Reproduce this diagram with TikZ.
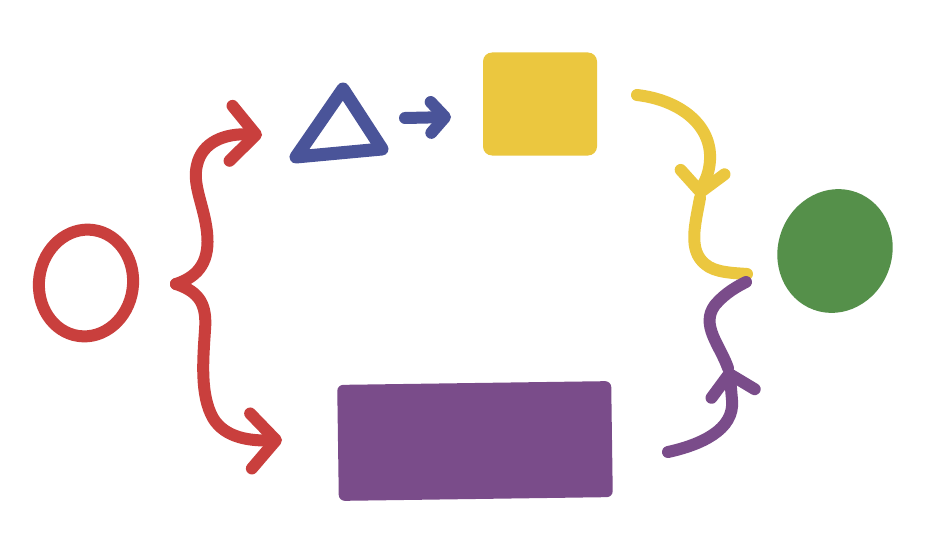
\documentclass[tikz,border=0pt]{standalone}
\usepackage{tikz}
\usetikzlibrary{arrows.meta,shapes.geometric}
\definecolor{redink}{HTML}{C93F3D}
\definecolor{blueink}{HTML}{4A5499}
\definecolor{yellowink}{HTML}{EBC73F}
\definecolor{purpleink}{HTML}{7A4C8A}
\definecolor{greenink}{HTML}{55904A}
\begin{document}
\begin{tikzpicture}[x=1pt,y=-1pt,line cap=round,line join=round,
 stroke/.style={line width=12pt},
 barb/.style={-{Straight Barb[round,length=#1,width=2.2*#1]}},
 barb/.default=20pt]
\useasboundingbox[fill=white] (0,0) rectangle (943,551);
% shapes
\node[ellipse,draw=redink,stroke,rotate=-8,minimum width=94pt,minimum height=107pt,inner sep=0pt] (ring) at (86,283) {};
\coordinate (t1) at (343,89);
\coordinate (t2) at (296,157);
\coordinate (t3) at (382,149);
\draw[blueink,line width=13pt] (t1) -- (t2) -- (t3) -- cycle;
\node[fill=yellowink,rounded corners=9pt,minimum width=114pt,minimum height=103pt,inner sep=0pt] (sq) at (540,104) {};
\node[fill=purpleink,rounded corners=6pt,rotate=0.8,minimum width=274pt,minimum height=116pt,inner sep=0pt] (bar) at (475,441) {};
\node[ellipse,fill=greenink,rotate=-20,minimum width=114pt,minimum height=125pt,inner sep=0pt] (blob) at (835,251) {};
% connectors
\coordinate (bracetip) at (176,284);
\coordinate (upend) at (262,135);
\coordinate (lowend) at (282,440);
\draw[redink,stroke,barb=25pt] (bracetip) .. controls (200,276) and (210,260) .. (207,232)
 .. controls (204,205) and (192,185) .. (197,165) .. controls (202,142) and (225,133) .. (upend);
\draw[redink,stroke,barb=25pt] (bracetip) .. controls (200,292) and (207,305) .. (205,330)
 .. controls (203,360) and (200,395) .. (213,418) .. controls (225,438) and (250,441) .. (lowend);
\coordinate (blstart) at (405,118);
\coordinate (blend) at (451,117);
\draw[blueink,line width=12pt,barb=14pt] (blstart) -- (blend);
\coordinate (ystart) at (637,95);
\coordinate (ymid) at (700,198);
\coordinate (meet) at (747,274);
\draw[yellowink,stroke,barb=20pt] (ystart) .. controls (680,100) and (712,125) .. (710,160)
 .. controls (709,178) and (701,188) .. (ymid);
\draw[yellowink,stroke] (ymid) .. controls (695,225) and (688,250) .. (705,264)
 .. controls (715,273) and (735,273) .. (meet);
\coordinate (pstart) at (668,452);
\coordinate (pmid) at (728,368);
\coordinate (pend) at (746,282);
\draw[purpleink,stroke,barb=20pt] (pstart) .. controls (700,445) and (735,430) .. (732,400)
 .. controls (731,388) and (730,378) .. (pmid);
\draw[purpleink,stroke] (pmid) .. controls (720,345) and (700,325) .. (715,305)
 .. controls (725,293) and (738,286) .. (pend);
\end{tikzpicture}
\end{document}
